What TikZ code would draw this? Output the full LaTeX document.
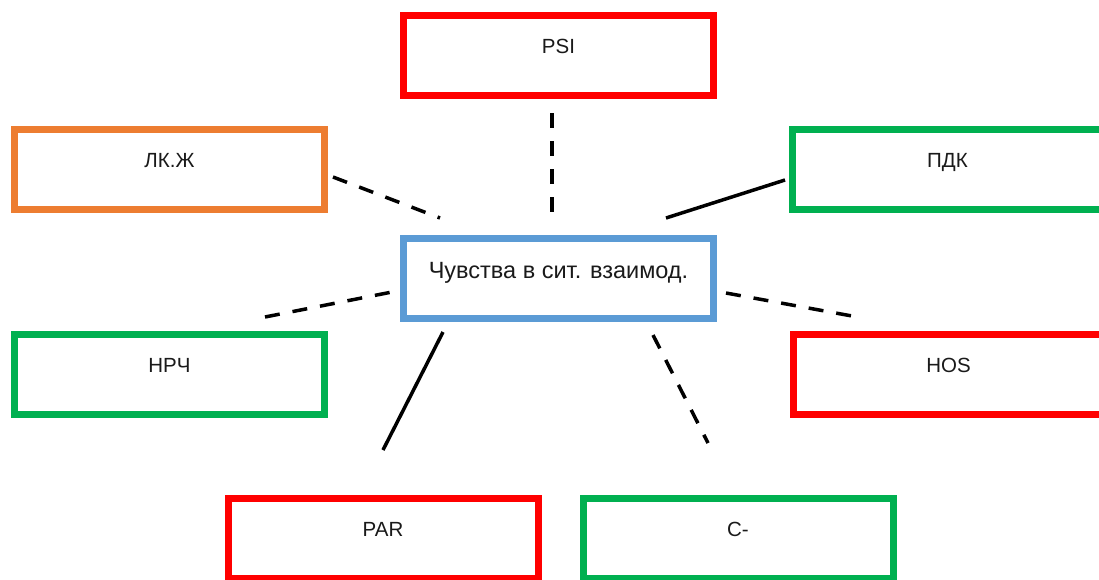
\documentclass[tikz,border=0pt]{standalone}
\usepackage{fontspec}
\setmainfont{Liberation Sans}
\definecolor{boxred}{HTML}{FF0000}
\definecolor{boxorange}{HTML}{ED7D31}
\definecolor{boxgreen}{HTML}{00B050}
\definecolor{boxblue}{HTML}{5B9BD5}
\definecolor{ink}{HTML}{1A1A1A}
\tikzset{
  box/.style={draw=#1, line width=7pt, rectangle, minimum width=310pt,
    minimum height=80pt, inner sep=0pt, outer sep=0pt, fill=white,
    text=ink, font=\fontsize{20.5pt}{22pt}\selectfont,
    text height=15pt, text depth=19pt},
  hub/.style={box=boxblue, font=\fontsize{23.5pt}{25pt}\selectfont,
    text height=17pt, text depth=17pt},
  link/.style={line width=3.5pt, black},
  dlink/.style={link, dash pattern=on 15pt off 13pt},
}
\begin{document}
\begin{tikzpicture}[x=1pt, y=-1pt]
  \useasboundingbox (0,0) rectangle (1099,579);
  \clip (0,0) rectangle (1099,579);
  \fill[white] (0,0) rectangle (1099,579);

  % boxes
  \node[box=boxred]    (psi)  at (558.5,55.5)  {PSI};
  \node[box=boxorange] (lk)   at (169.5,169.5) {ЛК.Ж};
  \node[box=boxgreen]  (pdk)  at (947.5,169.5) {ПДК};
  \node[hub]           (hub)  at (558.5,278.5) {Чувства в сит. взаимод.};
  \node[box=boxgreen]  (nrch) at (169.5,374.5) {НРЧ};
  \node[box=boxred]    (hos)  at (948.5,374.5) {HOS};
  \node[box=boxred]    (par)  at (383,538.5)   {PAR};
  \node[box=boxgreen]  (cm)   at (738,538.5)   {C-};

  % connector ends, set off from the boxes
  \coordinate (psi-a)  at ([shift={(-6.5,57.5)}]psi.center);
  \coordinate (psi-b)  at ([shift={(-6.5,-66.5)}]hub.center);
  \coordinate (lk-a)   at ([shift={(163.5,7.5)}]lk.center);
  \coordinate (lk-b)   at ([shift={(-118.5,-60.5)}]hub.center);
  \coordinate (pdk-a)  at ([shift={(-162.5,10.5)}]pdk.center);
  \coordinate (pdk-b)  at ([shift={(107.5,-60.5)}]hub.center);
  \coordinate (nrch-a) at ([shift={(95.5,-57.5)}]nrch.center);
  \coordinate (nrch-b) at ([shift={(-166.5,13.5)}]hub.center);
  \coordinate (hos-a)  at ([shift={(167.5,14.5)}]hub.center);
  \coordinate (hos-b)  at ([shift={(-96.5,-58.5)}]hos.center);
  \coordinate (par-a)  at ([shift={(-115.5,53.5)}]hub.center);
  \coordinate (par-b)  at ([shift={(0,-88.5)}]par.center);
  \coordinate (cm-a)   at ([shift={(94.5,56.5)}]hub.center);
  \coordinate (cm-b)   at ([shift={(-30,-95.5)}]cm.center);

  % connectors
  \draw[dlink] (psi-a) -- (psi-b);
  \draw[dlink] (lk-a) -- (lk-b);
  \draw[link]  (pdk-a) -- (pdk-b);
  \draw[dlink] (nrch-a) -- (nrch-b);
  \draw[dlink] (hos-a) -- (hos-b);
  \draw[link]  (par-a) -- (par-b);
  \draw[dlink] (cm-a) -- (cm-b);
\end{tikzpicture}
\end{document}
